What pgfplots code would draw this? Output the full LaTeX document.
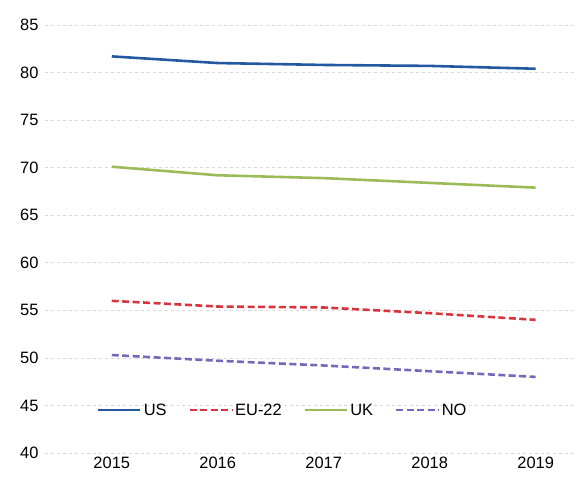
\documentclass[border=0pt]{standalone}
\usepackage{pgfplots}
\pgfplotsset{compat=1.18}
\usepackage{fontspec}
\setmainfont{Liberation Sans}

\definecolor{usblue}{HTML}{2458A0}
\definecolor{eured}{HTML}{D8343E}
\definecolor{ukgreen}{HTML}{9BBB59}
\definecolor{nopurple}{HTML}{7468B8}

\begin{document}
\begin{tikzpicture}
\begin{axis}[
    name=ax,
    scale only axis,
    width=532bp, height=428bp,
    xmin=-0.63, xmax=4.39,
    ymin=40, ymax=85,
    xtick={0,...,4},
    xticklabels={2015,2016,2017,2018,2019},
    ytick={40,45,...,85},
    axis line style={draw=none},
    major tick length=0pt,
    ymajorgrids,
    grid style={dashed, gray!30, line width=0.6pt},
    tick label style={font=\fontsize{16.5}{19}\selectfont},
    /pgf/number format/assume math mode=true,
    yticklabel style={xshift=-3pt},
    xticklabel style={yshift=-1pt},
    legend style={at={(0.447,0.1)}, anchor=center, draw=none, fill=none,
        font=\fontsize{16.5}{19}\selectfont,
        /tikz/every even column/.append style={column sep=20bp}},
    legend columns=4,
    legend image code/.code={\draw[#1] (0bp,0bp) -- (42bp,0bp);},
    every axis plot/.append style={line width=2.6pt},
]
\addplot[usblue] coordinates {(0,81.7) (1,81.0) (2,80.8) (3,80.7) (4,80.4)};
\addplot[eured, dash pattern=on 7pt off 3.5pt] coordinates {(0,56.0) (1,55.4) (2,55.3) (3,54.7) (4,54.0)};
\addplot[ukgreen] coordinates {(0,70.1) (1,69.2) (2,68.9) (3,68.4) (4,67.9)};
\addplot[nopurple, dash pattern=on 7pt off 3.5pt] coordinates {(0,50.3) (1,49.7) (2,49.2) (3,48.6) (4,48.0)};
\legend{US,EU-22,UK,NO}
\end{axis}
\pgfresetboundingbox
\path ([xshift=-45bp,yshift=-29bp]ax.south west) rectangle ([xshift=532bp,yshift=453bp]ax.south west);
\end{tikzpicture}
\end{document}
